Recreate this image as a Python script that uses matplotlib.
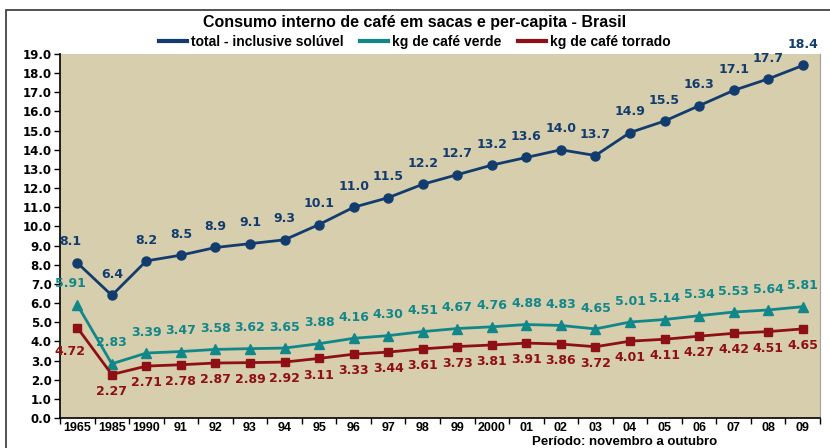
import matplotlib
matplotlib.use('Agg')
from matplotlib import pyplot as plt
from matplotlib.patches import Rectangle
import numpy as np

anos = ['1965', '1985', '1990', '91', '92', '93', '94', '95', '96', '97', '98',
        '99', '2000', '01', '02', '03', '04', '05', '06', '07', '08', '09']
total = [8.1, 6.4, 8.2, 8.5, 8.9, 9.1, 9.3, 10.1, 11.0, 11.5, 12.2, 12.7,
         13.2, 13.6, 14.0, 13.7, 14.9, 15.5, 16.3, 17.1, 17.7, 18.4]
verde = [5.91, 2.83, 3.39, 3.47, 3.58, 3.62, 3.65, 3.88, 4.16, 4.30, 4.51,
         4.67, 4.76, 4.88, 4.83, 4.65, 5.01, 5.14, 5.34, 5.53, 5.64, 5.81]
torrado = [4.72, 2.27, 2.71, 2.78, 2.87, 2.89, 2.92, 3.11, 3.33, 3.44, 3.61,
           3.73, 3.81, 3.91, 3.86, 3.72, 4.01, 4.11, 4.27, 4.42, 4.51, 4.65]

c_total = '#123C6E'
c_verde = '#12878A'
c_torr = '#8E1014'
narrow = ['Liberation Sans Narrow', 'Liberation Sans', 'DejaVu Sans']

fig = plt.figure(figsize=(8.3, 4.48), dpi=100)
ax = fig.add_axes([60/830, 30/448, 760/830, 364/448])
ax.set_facecolor('#D7CEAD')

x = np.arange(len(anos))
ax.plot(x, total, color=c_total, lw=2, marker='o', ms=6.5, label='total - inclusive solúvel')
ax.plot(x, verde, color=c_verde, lw=2, marker='^', ms=7.5, label='kg de café verde')
ax.plot(x, torrado, color=c_torr, lw=2, marker='s', ms=6, label='kg de café torrado')

lab = dict(fontsize=9, fontweight='bold', ha='center', va='center', family='DejaVu Sans')
for i in range(len(x)):
    dx = -5 if i == 0 else 0
    ax.annotate('%.1f' % total[i], (x[i], total[i]), xytext=(dx, 15),
                textcoords='offset points', color=c_total, **lab)
    ax.annotate('%.2f' % verde[i], (x[i], verde[i]), xytext=(dx, 15),
                textcoords='offset points', color=c_verde, **lab)
    dy = -17 if i == 0 else -12
    ax.annotate('%.2f' % torrado[i], (x[i], torrado[i]), xytext=(dx, dy),
                textcoords='offset points', color=c_torr, **lab)

ax.set_xlim(-0.5, len(anos) - 0.5)
ax.set_ylim(0, 19)
ax.set_yticks(np.arange(0, 19.5, 1.0))
ax.set_yticklabels(['%.1f' % v for v in np.arange(0, 19.5, 1.0)],
                   fontsize=8.5, fontweight='bold')
ax.set_xticks(x)
ax.set_xticklabels(anos, fontsize=9, fontweight='bold', family=narrow)
ax.set_xticks(np.arange(-0.5, len(anos), 1.0), minor=True)
ax.tick_params(axis='x', which='major', length=0, pad=3)
ax.tick_params(axis='x', which='minor', length=4, width=1)
ax.tick_params(axis='y', length=4, width=1, pad=2)
ax.spines['top'].set_visible(False)
ax.spines['right'].set_color('#A0A0A0')
ax.spines['left'].set_linewidth(1.2)
ax.spines['bottom'].set_linewidth(1.2)

fig.text(0.5, 1 - 22/448, 'Consumo interno de café em sacas e per-capita - Brasil',
         ha='center', va='center', fontsize=11.5, fontweight='bold', family=narrow)
leg = fig.legend(loc='center', bbox_to_anchor=(0.5, 1 - 42/448), ncol=3, frameon=False,
                 prop={'family': narrow, 'weight': 'bold', 'size': 10},
                 handlelength=2.0, handletextpad=0.3, columnspacing=1.2)
for h in leg.legend_handles:
    h.set_marker('')
    h.set_linewidth(3)
fig.text(625/830, 1 - 442/448, 'Período: novembro a outubro', ha='center', va='center',
         fontsize=9.5, fontweight='bold', family=narrow)

fig.patches.append(Rectangle((6/830, -0.1), 1.0, 1 - 10/448 + 0.1, transform=fig.transFigure,
                             fill=False, edgecolor='#333333', lw=1.2))

fig.savefig('out.png', dpi=100)
